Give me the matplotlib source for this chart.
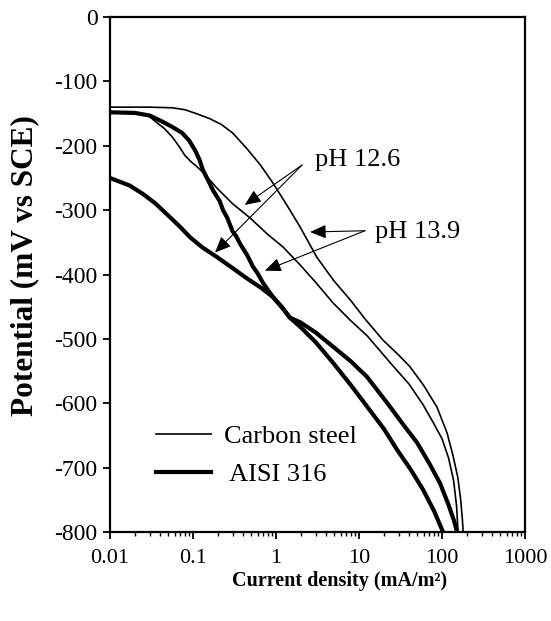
import matplotlib
matplotlib.use("Agg")
import matplotlib.pyplot as plt
from matplotlib.ticker import FixedLocator, LogLocator, NullFormatter

plt.rcParams['font.family'] = ['Liberation Serif', 'DejaVu Serif']
plt.rcParams['axes.unicode_minus'] = False

# Carbon steel, pH 13.9 (outer thin curve)
cs139_i = [0.01, 0.03, 0.056, 0.08, 0.115, 0.16, 0.22, 0.30, 0.45, 0.65, 0.92, 1.35, 1.95, 3.1, 5.0, 7.8,
           12, 19.5, 30, 41, 60, 87, 115, 135, 155, 168, 176, 180]
cs139_e = [-140, -140, -141, -144, -151, -158, -167, -180, -205, -230, -258, -292, -326, -373, -410, -439,
           -470, -502, -525, -543, -572, -606, -646, -680, -715, -750, -780, -800]

# Carbon steel, pH 12.6 (inner thin curve)
cs126_i = [0.01, 0.02, 0.029, 0.035, 0.045, 0.056, 0.068, 0.080, 0.095, 0.106, 0.132, 0.195, 0.30, 0.486,
           0.8, 1.21, 1.95, 3.0, 4.86, 8.0, 12.5, 25.7, 40, 59, 80, 100, 120, 138, 150, 156]
cs126_e = [-148, -148, -153, -162, -173, -186, -201, -215, -225, -230, -241, -266, -290, -312,
           -338, -357, -385, -412, -444, -472, -495, -542, -570, -602, -632, -655, -685, -720, -760, -800]

# AISI 316, pH 13.9 (steep thick curve, a little ragged in the middle)
ss139_i = [0.01, 0.02, 0.03, 0.042, 0.055, 0.074, 0.09, 0.106, 0.12, 0.132, 0.15, 0.174, 0.21, 0.23, 0.257,
           0.30, 0.33, 0.368, 0.45, 0.529, 0.60, 0.697, 0.92, 1.2, 1.47, 1.95, 3.0, 4.86, 8.0, 12.5,
           20, 28.7, 42, 59, 80, 103]
ss139_e = [-148, -149, -153, -162, -170, -180, -192, -207, -222, -238, -252, -269, -286, -300, -311,
           -333, -340, -352, -370, -388, -398, -413, -435, -452, -467, -481, -505, -537, -572, -605,
           -640, -672, -703, -734, -767, -800]

# AISI 316, pH 12.6 (thick curve starting at -250)
ss126_i = [0.01, 0.0174, 0.025, 0.0348, 0.05, 0.07, 0.092, 0.13, 0.195, 0.30, 0.424, 0.65, 0.92, 1.2,
           1.47, 1.95, 3.0, 4.86, 8.0, 12.5, 22, 35, 50, 70, 94.6, 120, 140, 152]
ss126_e = [-250, -262, -275, -289, -308, -326, -342, -358, -373, -390, -404, -420, -435, -452,
           -467, -474, -490, -512, -535, -559, -600, -635, -661, -693, -724, -758, -783, -800]

x_ticks = [0.01, 0.1, 1, 10, 100, 1000]
x_labels = ["0.01", "0.1", "1", "10", "100", "1000"]
y_ticks = [0, -100, -200, -300, -400, -500, -600, -700, -800]

fig = plt.figure(figsize=(5.51, 6.21), dpi=100)
ax = fig.add_axes([0.1996, 0.1433, 0.7532, 0.8293])

thin, thick = 1.2, 3.0
ax.plot(cs139_i, cs139_e, color="black", lw=thin, label="Carbon steel")
ax.plot(cs126_i, cs126_e, color="black", lw=thin, label="_nolegend_")
ax.plot(ss139_i, ss139_e, color="black", lw=thick, label=" AISI 316")
ax.plot(ss126_i, ss126_e, color="black", lw=thick, label="_nolegend_")

ax.set_xscale("log")
ax.set_xlim(0.01, 1000)
ax.set_ylim(-800, 0)
ax.xaxis.set_major_locator(FixedLocator(x_ticks))
ax.set_xticklabels(x_labels)
ax.xaxis.set_minor_locator(LogLocator(base=10, subs=range(2, 10)))
ax.xaxis.set_minor_formatter(NullFormatter())
ax.set_yticks(y_ticks)
ax.set_yticklabels([str(v) for v in y_ticks])

for s in ax.spines.values():
    s.set_linewidth(1.6)
ax.tick_params(axis="x", which="major", direction="out", length=5, width=1.3, labelsize=16, pad=7)
ax.tick_params(axis="y", which="major", direction="out", length=5, width=1.3, labelsize=17, pad=4)
ax.tick_params(axis="x", which="minor", direction="out", length=3, width=1.0)

ax.set_xlabel("Current density (mA/m²)", fontsize=14.5, fontweight="bold")
ax.xaxis.set_label_coords(0.552, -0.075)
ax.set_ylabel("Potential (mV vs SCE)", fontsize=22.5, fontweight="bold")
ax.yaxis.set_label_coords(-0.17, 0.517)

# annotations
arrow = dict(arrowstyle="-|>,head_length=0.7,head_width=0.3", color="black", lw=0.8,
             shrinkA=0, shrinkB=0, mutation_scale=14)
ax.text(2.95, -222, "pH 12.6", fontsize=19, ha="left", va="center")
ax.annotate("", xy=(0.42, -292), xytext=(2.06, -230), arrowprops=arrow)
ax.annotate("", xy=(0.184, -366), xytext=(2.06, -230), arrowprops=arrow)
ax.text(15.6, -334, "pH 13.9", fontsize=19, ha="left", va="center")
ax.annotate("", xy=(2.57, -334), xytext=(11.8, -332), arrowprops=arrow)
ax.annotate("", xy=(0.736, -394), xytext=(11.8, -332), arrowprops=arrow)

ax.legend(loc="upper left", bbox_to_anchor=(0.11, 0.208), frameon=False, fontsize=19,
          handlelength=2.1, handletextpad=0.5, labelspacing=0.55, borderpad=0, borderaxespad=0)

fig.savefig("out.png", dpi=100)
